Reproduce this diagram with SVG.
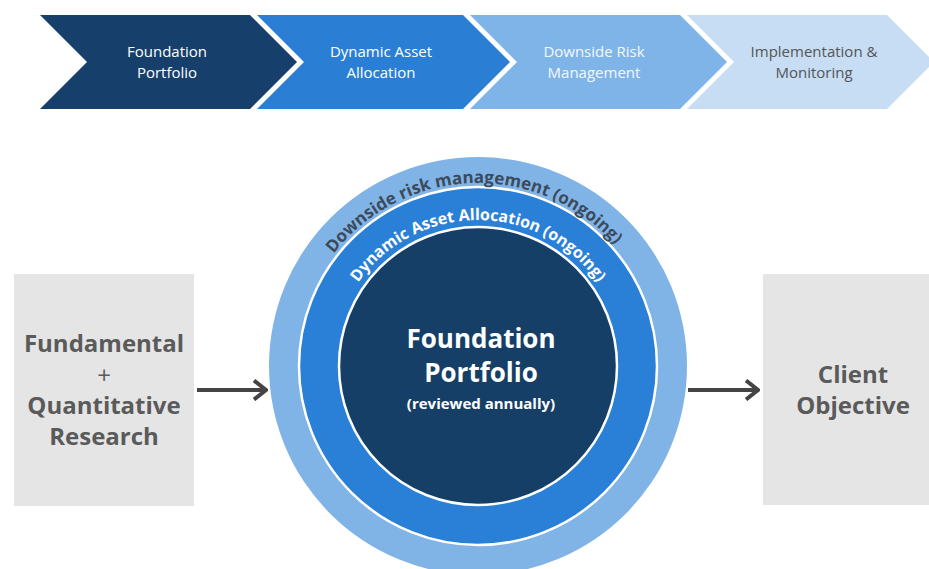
<svg xmlns="http://www.w3.org/2000/svg" width="929" height="569" viewBox="0 0 929 569">
<style>
.chev{font-family:"Open Sans","Noto Sans",sans-serif;font-size:15px;text-anchor:middle}
.box{fill:#e5e5e5}
.boxt{font-family:"Open Sans","Noto Sans",sans-serif;font-size:24px;font-weight:bold;fill:#5a5a5a;text-anchor:middle}
.ctr{font-family:"Open Sans","Noto Sans",sans-serif;font-weight:bold;fill:#ffffff;text-anchor:middle}
.arc{font-family:"Open Sans","Noto Sans",sans-serif;font-weight:bold}
.conn{stroke:#444444;stroke-width:4;fill:none}
</style>
<defs>
<marker id="ah" viewBox="0 0 16 22" refX="14" refY="11" markerWidth="16" markerHeight="22" markerUnits="userSpaceOnUse" orient="auto">
<polyline points="2,1.5 14,11 2,20.5" fill="none" stroke="#444444" stroke-width="4"/>
</marker>
<path id="arcOuter" d="M 295 366 A 183 183 0 0 1 661 366"/>
<path id="arcInner" d="M 332 366 A 146 146 0 0 1 624 366"/>
</defs>
<rect width="929" height="569" fill="#ffffff"/>

<g id="step1">
<polygon points="40,15 250,15 297,62 250,109 40,109 87,62" fill="#173f6b"/>
<text class="chev" x="167" y="57" fill="#ffffff">Foundation</text>
<text class="chev" x="167" y="78" fill="#ffffff">Portfolio</text>
</g>
<g id="step2">
<polygon points="257,15 463,15 510,62 463,109 257,109 304,62" fill="#2a7fd4"/>
<text class="chev" x="381" y="57" fill="#ffffff">Dynamic  Asset</text>
<text class="chev" x="381" y="78" fill="#ffffff">Allocation</text>
</g>
<g id="step3">
<polygon points="470,15 680,15 727,62 680,109 470,109 517,62" fill="#7fb4e8"/>
<text class="chev" x="594" y="57" fill="#f4f8fc">Downside Risk</text>
<text class="chev" x="594" y="78" fill="#f4f8fc">Management</text>
</g>
<g id="step4">
<polygon points="687,15 887,15 934,62 887,109 687,109 734,62" fill="#c7ddf4"/>
<text class="chev" x="814" y="57" fill="#555555">Implementation &amp;</text>
<text class="chev" x="814" y="78" fill="#555555">Monitoring</text>
</g>

<g id="research">
<rect class="box" x="14" y="274" width="180" height="232"/>
<text class="boxt" x="104" y="352">Fundamental</text>
<text class="boxt" x="104" y="384" style="font-weight:normal">+</text>
<text class="boxt" x="104" y="414">Quantitative</text>
<text class="boxt" x="104" y="445">Research</text>
</g>

<g id="circle">
<circle cx="478" cy="366" r="209" fill="#80b4e7"/>
<circle cx="478" cy="366" r="179" fill="#2a80d6" stroke="#ffffff" stroke-width="2.5"/>
<circle cx="478" cy="366" r="139" fill="#163f68" stroke="#ffffff" stroke-width="2.5"/>
<text class="arc" font-size="17" fill="#3b4b5c"><textPath href="#arcOuter" startOffset="49%" text-anchor="middle">Downside risk management (ongoing)</textPath></text>
<text class="arc" font-size="16" fill="#ffffff"><textPath href="#arcInner" startOffset="50%" text-anchor="middle">Dynamic Asset Allocation (ongoing)</textPath></text>
<text class="ctr" x="481" y="348" font-size="26">Foundation</text>
<text class="ctr" x="481" y="382" font-size="26">Portfolio</text>
<text class="ctr" x="481" y="409" font-size="15">(reviewed annually)</text>
</g>

<g id="client">
<rect class="box" x="763" y="274" width="170" height="231"/>
<text class="boxt" x="853" y="383">Client</text>
<text class="boxt" x="853" y="414">Objective</text>
</g>

<g id="connectors">
<line class="conn" x1="197" y1="390" x2="266" y2="390" marker-end="url(#ah)"/>
<line class="conn" x1="688" y1="390" x2="758" y2="390" marker-end="url(#ah)"/>
</g>
</svg>
